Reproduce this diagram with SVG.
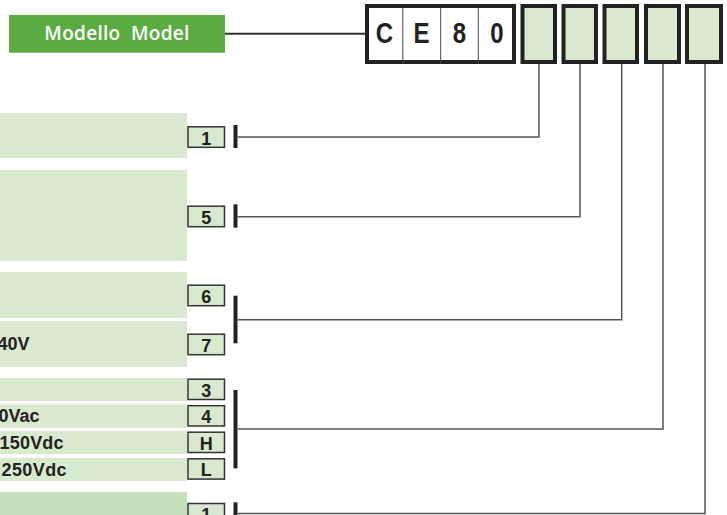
<svg xmlns="http://www.w3.org/2000/svg" width="727" height="515" viewBox="0 0 727 515">
<style>
.panel{fill:#d8e9d0}
.panel2{fill:#c7e0bc}
.code rect{fill:#d8e9d0;stroke:#333;stroke-width:1.5}
.code text{font-family:"Liberation Sans",Arial,sans-serif;font-weight:bold;font-size:18px;fill:#222;text-anchor:middle}
.ptxt{font-family:"Liberation Sans",Arial,sans-serif;font-weight:bold;font-size:18px;fill:#222}
.slot{fill:#d8e9d0;stroke:#222;stroke-width:4}
.letter{font-family:"Liberation Sans",Arial,sans-serif;font-size:30px;font-weight:bold;fill:#222;text-anchor:middle}
.bar{fill:#222}
.wire{fill:none;stroke:#555;stroke-width:1.5}
</style>
<rect width="727" height="515" fill="#fff"/>

<g id="model-label">
<rect x="9" y="15" width="216" height="37.7" fill="#5aac41"/>
<text x="117" y="39.5" font-family="'Open Sans','Liberation Sans',sans-serif" font-size="19" font-weight="600" fill="#fff" text-anchor="middle" letter-spacing="0.3" xml:space="preserve">Modello  Model</text>
</g>

<g id="ce80">
<rect x="367" y="6" width="147" height="56" fill="#fff" stroke="#222" stroke-width="4"/>
<line x1="402.8" y1="8" x2="402.8" y2="64" stroke="#444" stroke-width="1"/>
<line x1="440.7" y1="8" x2="440.7" y2="64" stroke="#444" stroke-width="1"/>
<line x1="478.3" y1="8" x2="478.3" y2="64" stroke="#444" stroke-width="1"/>
<text class="letter" transform="translate(384.3,43) scale(0.8,1)">C</text>
<text class="letter" transform="translate(421.5,43) scale(0.8,1)">E</text>
<text class="letter" transform="translate(459.4,43) scale(0.8,1)">8</text>
<text class="letter" transform="translate(496.8,43) scale(0.8,1)">0</text>
</g>

<g id="slots">
<rect class="slot" x="522.5" y="6" width="32.5" height="56"/>
<rect class="slot" x="563.5" y="6" width="32.5" height="56"/>
<rect class="slot" x="604.5" y="6" width="32.5" height="56"/>
<rect class="slot" x="646" y="6" width="33" height="56"/>
<rect class="slot" x="687" y="6" width="34" height="56"/>
</g>

<g id="panels">
<rect class="panel" x="0" y="113" width="187" height="45"/>
<rect class="panel" x="0" y="170" width="187" height="91"/>
<rect class="panel" x="0" y="272" width="187" height="46"/>
<rect class="panel" x="0" y="321" width="187" height="46"/>
<rect class="panel" x="0" y="378" width="187" height="23"/>
<rect class="panel" x="0" y="404.5" width="187" height="23.5"/>
<rect class="panel" x="0" y="431" width="187" height="23"/>
<rect class="panel" x="0" y="458" width="187" height="23"/>
<rect class="panel2" x="0" y="492" width="187" height="23"/>
<text class="ptxt" x="-2.5" y="350">40V</text>
<text class="ptxt" x="-1.5" y="421.5">0Vac</text>
<text class="ptxt" x="-0.5" y="448.5" letter-spacing="0.2">150Vdc</text>
<text class="ptxt" x="1.5" y="476" letter-spacing="0.4">250Vdc</text>
</g>

<g id="code-1" class="code"><rect x="188" y="126.8" width="36.5" height="20.5"/><text x="206.2" y="144.5">1</text></g>
<g id="code-5" class="code"><rect x="188" y="206.2" width="36.5" height="20.5"/><text x="206.2" y="223.9">5</text></g>
<g id="code-6" class="code"><rect x="188" y="285.2" width="36.5" height="20.5"/><text x="206.2" y="302.9">6</text></g>
<g id="code-7" class="code"><rect x="188" y="334.2" width="36.5" height="20.5"/><text x="206.2" y="351.9">7</text></g>
<g id="code-3" class="code"><rect x="188" y="379.2" width="36.5" height="20.3"/><text x="206.2" y="396.7">3</text></g>
<g id="code-4" class="code"><rect x="188" y="405.7" width="36.5" height="20.3"/><text x="206.2" y="423.2">4</text></g>
<g id="code-H" class="code"><rect x="188" y="432.2" width="36.5" height="20.3"/><text x="206.2" y="449.7">H</text></g>
<g id="code-L" class="code"><rect x="188" y="458.8" width="36.5" height="20.3"/><text x="206.2" y="476.3">L</text></g>
<g id="code-1b" class="code"><rect x="188" y="503.5" width="36.5" height="20.5"/><text x="206.2" y="521.2">1</text></g>

<g id="connectors">
<line x1="225" y1="33.7" x2="365" y2="33.7" stroke="#333" stroke-width="2"/>
<rect class="bar" x="233.5" y="125" width="4" height="23"/>
<rect class="bar" x="233.5" y="204.3" width="4" height="23.4"/>
<rect class="bar" x="233.5" y="295.7" width="4" height="47.6"/>
<rect class="bar" x="233.5" y="390" width="4" height="78.3"/>
<rect class="bar" x="233.5" y="502.3" width="4" height="14"/>
<polyline class="wire" points="237.5,137 539,137 539,64"/>
<polyline class="wire" points="237.5,216.7 580,216.7 580,64"/>
<polyline class="wire" points="237.5,319.7 621.7,319.7 621.7,64"/>
<polyline class="wire" points="237.5,429 663,429 663,64"/>
<polyline class="wire" points="237.5,513.6 705,513.6 705,64"/>
</g>
</svg>
